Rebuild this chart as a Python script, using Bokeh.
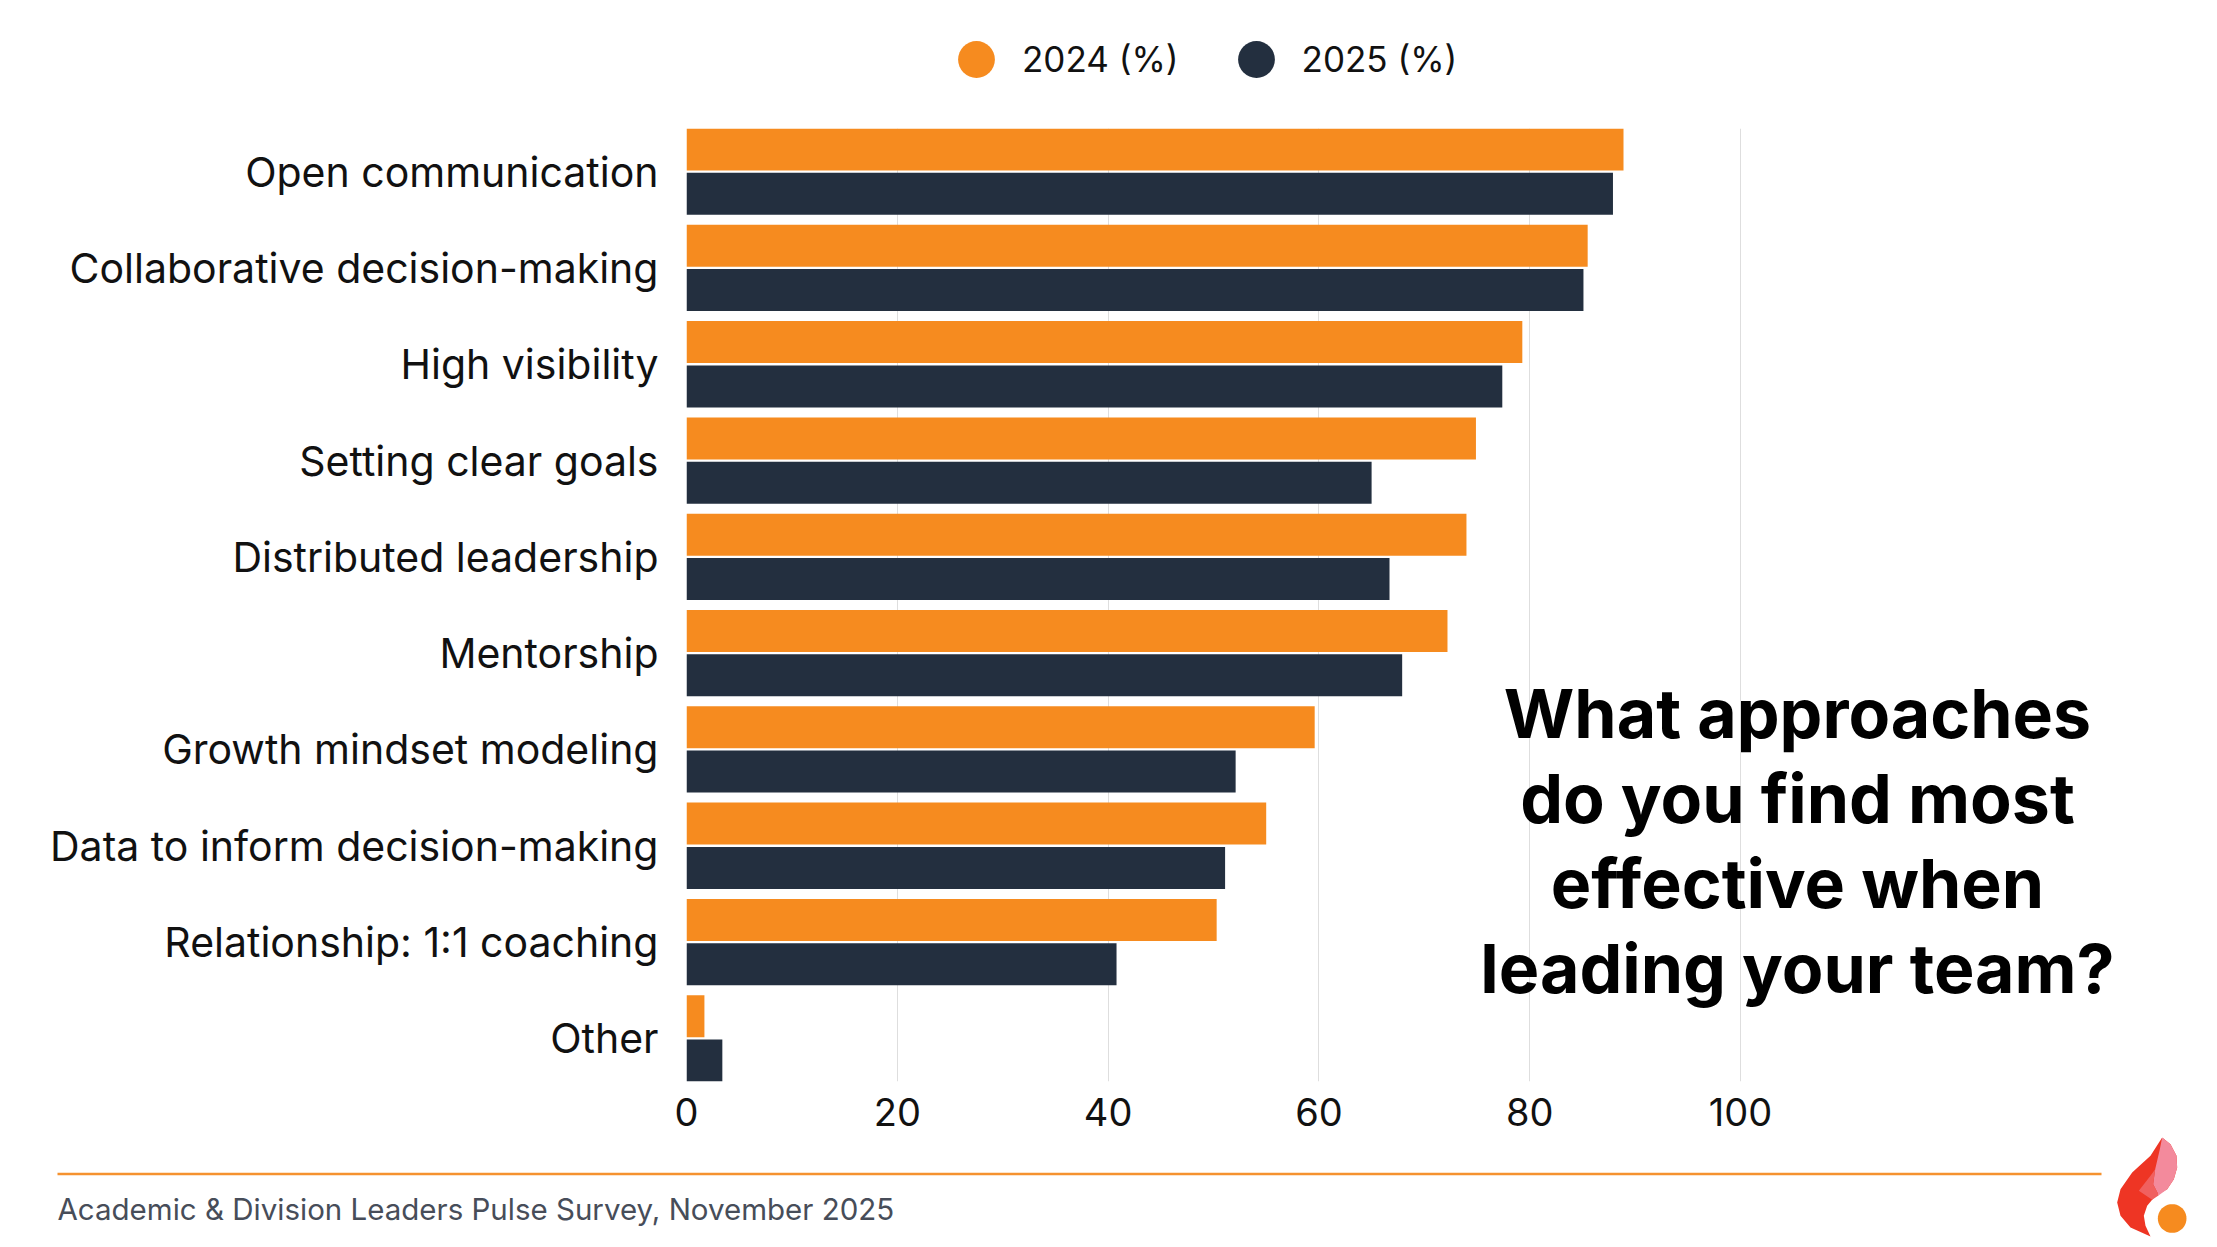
import math
from bokeh.plotting import figure
from bokeh.layouts import column
from bokeh.models import (ColumnDataSource, Range1d, FixedTicker, Legend, LegendItem,
                          Label, BoxAnnotation, PolyAnnotation)
from bokeh.transform import dodge
from bokeh.embed import file_html
from bokeh.resources import INLINE

# ---------------- data ----------------
categories = [
    "Open communication",
    "Collaborative decision-making",
    "High visibility",
    "Setting clear goals",
    "Distributed leadership",
    "Mentorship",
    "Growth mindset modeling",
    "Data to inform decision-making",
    "Relationship: 1:1 coaching",
    "Other",
]
values_2024 = [88.9, 85.5, 79.3, 74.9, 74.0, 72.2, 59.6, 55.0, 50.3, 1.7]
values_2025 = [87.9, 85.1, 77.4, 65.0, 66.7, 67.9, 52.1, 51.1, 40.8, 3.4]
series_labels = ["2024 (%)", "2025 (%)"]
x_ticks = [0, 20, 40, 60, 80, 100]
title_lines = ["What approaches", "do you find most", "effective when", "leading your team?"]
footer_text = "Academic & Division Leaders Pulse Survey, November 2025"

# ---------------- style / layout ----------------
ORANGE = "#F68B1F"
NAVY = "#232F3F"
FONT = "Inter"
W = 2217
H_LEG, H_MAIN, H_FOOT = 110, 1027, 110     # stacked: 0-110, 110-1137, 1137-1247
FL = 686            # frame left (page px)
FT, FB = 128, 1081  # frame top / bottom (page px)
PX_PER_UNIT = 10.54


def common(fig):
    fig.outline_line_color = None
    fig.background_fill_color = "white"
    fig.border_fill_color = "white"
    return fig


# ---------------- legend strip ----------------
leg = common(figure(width=W, height=H_LEG, output_backend="svg", toolbar_location=None,
                    x_range=Range1d(0, W), y_range=Range1d(H_LEG, 0),
                    x_axis_type=None, y_axis_type=None, frame_align=False,
                    min_border_left=0, min_border_right=0, min_border_top=0, min_border_bottom=0))
leg.grid.visible = False
# legend proxies: one undrawn (NaN) point each, so the legend draws its circle symbol
c24 = leg.scatter(x=[math.nan], y=[math.nan], marker="circle", size=10,
                  fill_color=ORANGE, line_color=None)
c25 = leg.scatter(x=[math.nan], y=[math.nan], marker="circle", size=10,
                  fill_color=NAVY, line_color=None)
legend = Legend(items=[LegendItem(label=series_labels[0], renderers=[c24]),
                       LegendItem(label=series_labels[1], renderers=[c25])],
                orientation="horizontal", location=(930, H_LEG - 13 - 92),
                glyph_width=92, glyph_height=92, label_standoff=0, spacing=31,
                padding=0, margin=0, border_line_color=None, background_fill_alpha=0,
                label_text_font=FONT, label_text_font_size="35px", label_text_color="#111111")
leg.add_layout(legend)

# ---------------- main chart ----------------
n = len(categories)
ypos = [n - 1 - i for i in range(n)]
source = ColumnDataSource(dict(cat=categories, y=ypos, v24=values_2024, v25=values_2025))
x_end = (W - FL) / PX_PER_UNIT

p = common(figure(width=W, height=H_MAIN, output_backend="svg", toolbar_location=None,
                  x_range=Range1d(0, x_end), y_range=Range1d(-0.448, n - 1 + 0.448),
                  frame_align=False,
                  min_border_left=FL, min_border_right=0,
                  min_border_top=FT - H_LEG, min_border_bottom=H_LEG + H_MAIN - FB))

p.hbar(y=dodge("y", 0.23), left=0, right="v24", height=0.436, source=source,
       fill_color=ORANGE, line_color=None)
p.hbar(y=dodge("y", -0.23), left=0, right="v25", height=0.436, source=source,
       fill_color=NAVY, line_color=None)

p.xaxis.ticker = FixedTicker(ticks=x_ticks)
p.xgrid.ticker = FixedTicker(ticks=x_ticks)
p.xgrid.grid_line_color = "#DEDEDE"
p.xgrid.grid_line_width = 1
p.ygrid.visible = False
p.yaxis.ticker = FixedTicker(ticks=ypos)
p.yaxis.major_label_overrides = {y: c for y, c in zip(ypos, categories)}
for ax in (p.xaxis[0], p.yaxis[0]):
    ax.axis_line_color = None
    ax.major_tick_line_color = None
    ax.minor_tick_line_color = None
    ax.major_tick_out = 0
    ax.major_tick_in = 0
    ax.major_label_text_font = FONT
    ax.major_label_text_color = "#111111"
p.xaxis.major_label_text_font_size = "38px"
p.xaxis.major_label_standoff = 16
p.yaxis.major_label_text_font_size = "41px"
p.yaxis.major_label_standoff = 28

# title block (inside the frame, right of the 100 gridline)
for i, line in enumerate(title_lines):
    p.add_layout(Label(x=1797 - FL, y=FB - (712 + 85 * i), x_units="screen", y_units="screen",
                       text=line, text_align="center", text_baseline="alphabetic",
                       text_font=FONT, text_font_style="bold", text_font_size="68px",
                       text_color="#000000"))

# ---------------- footer strip ----------------
y0 = H_LEG + H_MAIN
foot = common(figure(width=W, height=H_FOOT, output_backend="svg", toolbar_location=None,
                     x_range=Range1d(0, W), y_range=Range1d(y0 + H_FOOT, y0),
                     x_axis_type=None, y_axis_type=None, frame_align=False,
                     min_border_left=0, min_border_right=0, min_border_top=0, min_border_bottom=0))
foot.grid.visible = False
foot.add_layout(BoxAnnotation(left=57, right=2101, top=1172.3, bottom=1174.7,
                              fill_color="#F5922F", fill_alpha=1, line_color=None))
foot.add_layout(Label(x=57, y=1208, text=footer_text, text_align="left", text_baseline="middle",
                      text_font=FONT, text_font_size="29.5px", text_color="#474D59"))


def z(zx, zy):
    return 1950 + zx / 3, 1100 + zy / 3 + 12


def poly(points, color):
    foot.add_layout(PolyAnnotation(xs=[z(a, b)[0] for a, b in points],
                                   ys=[z(a, b)[1] for a, b in points],
                                   fill_color=color, fill_alpha=1, line_color=None))


poly([(635, 75), (600, 130), (545, 180), (510, 230), (500, 270), (510, 310), (540, 345),
      (600, 372), (585, 340), (580, 310), (590, 280), (615, 250), (650, 230), (670, 200),
      (680, 165), (678, 130), (660, 95)], "#EE3524")
poly([(635, 75), (660, 95), (678, 130), (680, 165), (670, 200), (650, 230), (625, 248),
      (608, 215), (614, 170), (628, 110)], "#F38A9C")
poly([(600, 190), (614, 170), (608, 215), (625, 248), (605, 262), (565, 235)], "#F0605F")
poly([(665 + 43 * math.cos(t * math.pi / 20), 318 + 43 * math.sin(t * math.pi / 20))
      for t in range(40)], ORANGE)

layout = column(leg, p, foot, spacing=0)
open("out.html", "w").write(file_html(layout, INLINE))
